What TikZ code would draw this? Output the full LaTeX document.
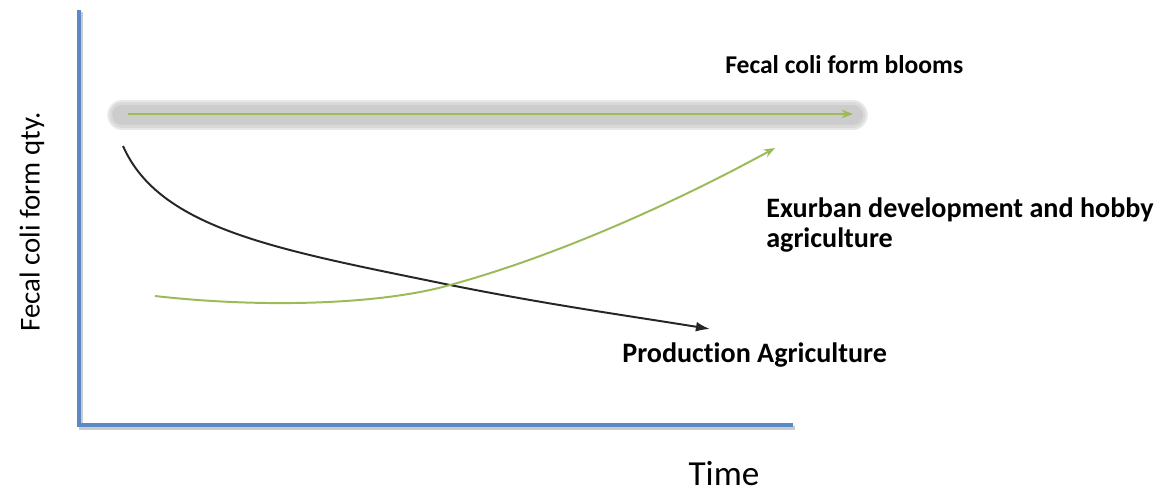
\documentclass[tikz,border=0pt]{standalone}
\usepackage{fontspec}
\setmainfont{Carlito}[Ligatures=NoCommon]
\usepackage{xcolor}
\usetikzlibrary{arrows.meta,calc}
\definecolor{axisblue}{HTML}{5A8AC6}
\definecolor{trendgreen}{HTML}{9BBB59}
\definecolor{trendblack}{HTML}{262626}
\tikzset{
  axisline/.style={draw=axisblue, line width=2.8pt},
  axisshadow/.style={draw=black!45, line width=2.8pt, opacity=.45},
  bartxt/.style={font=\bfseries\fontsize{18.2}{21}\selectfont, anchor=base west, inner sep=0pt},
  curvetxt/.style={font=\bfseries\fontsize{20}{21.3}\selectfont, anchor=base west, inner sep=0pt, align=left},
}

\begin{document}
\begin{tikzpicture}[x=0.025cm, y=-0.025cm]
\useasboundingbox (0, 0) rectangle (1158, 493);
% axes
\draw[axisshadow] (81, 12) -- (81, 428) -- (795, 428);
\draw[axisline] (79, 10) -- (79, 425) -- (793, 425);
% blooms bar
\draw[line width=21pt, black!9, line cap=round] (122, 115) -- (853, 115);
\draw[line width=18pt, black!15, line cap=round] (122, 115) -- (853, 115);
\draw[line width=14pt, black!20, line cap=round] (122, 115) -- (853, 115);
\draw[trendgreen, line width=1.3pt, -{Stealth[length=8pt, width=6pt]}] (128, 114) -- (853, 114);
\node[bartxt] (blooms) at (725, 73) {Fecal coli form blooms};
% production agriculture
\draw[trendblack, line width=1.4pt, -{Latex[length=10pt, width=7pt]}]
  (123, 146) .. controls (160, 230) and (280, 250) .. (450, 285)
  .. controls (550, 305) and (630, 316) .. (710, 329);
\node[curvetxt] (prod) at (622, 362) {Production Agriculture};
% exurban development
\draw[trendgreen, line width=1.4pt, -{Stealth[length=8pt, width=6pt]}]
  (155, 296) .. controls (260, 308) and (380, 305) .. (450, 285)
  .. controls (560, 255) and (680, 200) .. (775, 148);
\node[curvetxt] (exurban) at (766, 247) {Exurban development and hobby\\agriculture};
% axis labels
\node[font=\fontsize{25}{28}\selectfont, anchor=base, inner sep=0pt] (time) at (724, 485) {Time};
\node[font=\fontsize{20.5}{23}\selectfont, rotate=90, inner sep=0pt] (qty) at (32, 222) {Fecal coli form qty.};
\end{tikzpicture}
\end{document}
